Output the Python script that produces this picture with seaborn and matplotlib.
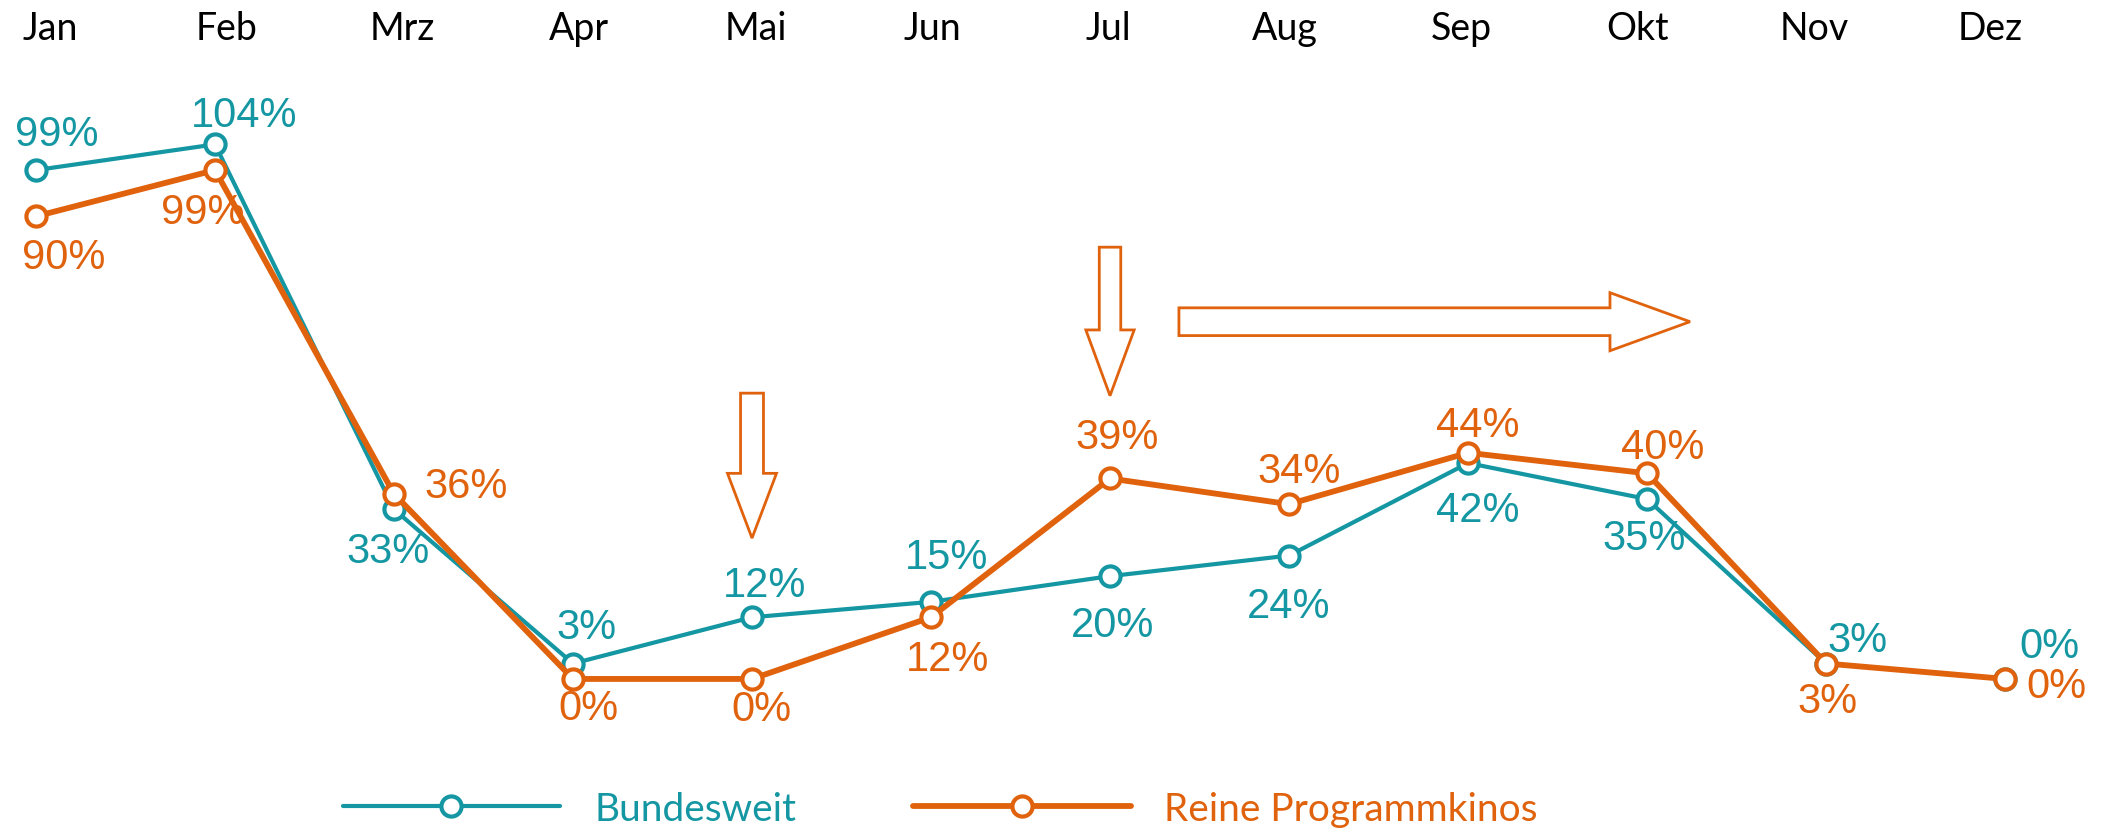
import numpy as np
import pandas as pd
import matplotlib.pyplot as plt
import seaborn as sns
from matplotlib.patches import FancyArrow

months = ["Jan", "Feb", "Mrz", "Apr", "Mai", "Jun", "Jul", "Aug", "Sep", "Okt", "Nov", "Dez"]
bundesweit = [99, 104, 33, 3, 12, 15, 20, 24, 42, 35, 3, 0]
programmkinos = [90, 99, 36, 0, 0, 12, 39, 34, 44, 40, 3, 0]

teal = "#1497A2"
orange = "#E0620D"

# label offsets (points) for each value label
off_b = [(15, 26), (21, 21), (-4, -30), (10, 26), (9, 23), (11, 32),
         (2, -35), (0, -36), (7, -34), (-2, -28), (23, 17), (32, 24)]
off_p = [(20, -29), (-9, -30), (52, 6), (11, -21), (7, -22), (12, -30),
         (5, 30), (7, 24), (7, 20), (11, 19), (1, -27), (37, -5)]

df = pd.DataFrame({"idx": np.arange(len(months)), "Monat": months,
                   "Bundesweit": bundesweit, "Reine Programmkinos": programmkinos})

sns.set_theme(style="white")
plt.rcParams["font.family"] = ["Lato", "DejaVu Sans"]

fig = plt.figure(figsize=(21.13, 8.29), dpi=100)
ax = fig.add_axes([0, 0, 1, (829 - 58) / 829])

# lines
sns.lineplot(data=df, x="idx", y="Bundesweit", ax=ax, color=teal, lw=3,
             marker="o", ms=14.5, mfc="white", mec=teal, mew=3, label="Bundesweit")
sns.lineplot(data=df, x="idx", y="Reine Programmkinos", ax=ax, color=orange, lw=4.2,
             marker="o", ms=14.5, mfc="white", mec=orange, mew=3, label="Reine Programmkinos")

# value labels
for i, v in enumerate(bundesweit):
    ax.annotate(f"{v}%", (i, v), xytext=off_b[i], textcoords="offset points",
                ha="center", va="center", fontsize=30, color=teal, family="Liberation Sans")
for i, v in enumerate(programmkinos):
    ax.annotate(f"{v}%", (i, v), xytext=off_p[i], textcoords="offset points",
                ha="center", va="center", fontsize=30, color=orange, family="Liberation Sans")

# outlined arrows
arrow_kw = dict(length_includes_head=True, fc="white", ec=orange, lw=2, zorder=1)
ax.add_patch(FancyArrow(4, 55.6, 0, -28.2, width=0.128, head_width=0.274, head_length=12.6, **arrow_kw))
ax.add_patch(FancyArrow(6, 84.0, 0, -28.9, width=0.12, head_width=0.27, head_length=12.8, **arrow_kw))
ax.add_patch(FancyArrow(6.385, 69.5, 2.855, 0, width=5.4, head_width=11.3, head_length=0.447, **arrow_kw))

ax.set_xlim(-0.201, 11.603)
ax.set_ylim(-29.0, 121.0)
ax.set_yticks([])
ax.set_xticks([])
ax.set_xlabel("")
ax.set_ylabel("")
for s in ax.spines.values():
    s.set_visible(False)

# month labels along the top
secax = ax.secondary_xaxis("top", functions=(lambda x: (x - 0.078) / 0.9855,
                                             lambda m: 0.078 + 0.9855 * m))
secax.set_xticks(range(len(months)))
secax.set_xticklabels(months, fontsize=27, color="black")
secax.tick_params(length=0, pad=8)
secax.spines["top"].set_visible(False)

ax.get_legend().remove()
handles, labels = ax.get_legend_handles_labels()
leg = fig.legend(handles, labels, loc="center", bbox_to_anchor=(0.445, 0.023), ncol=2,
                 frameon=False, fontsize=28, handlelength=5.6, handletextpad=0.87,
                 columnspacing=3.0, numpoints=1)
for t, c in zip(leg.get_texts(), [teal, orange]):
    t.set_color(c)

fig.savefig("out.png", dpi=100)
